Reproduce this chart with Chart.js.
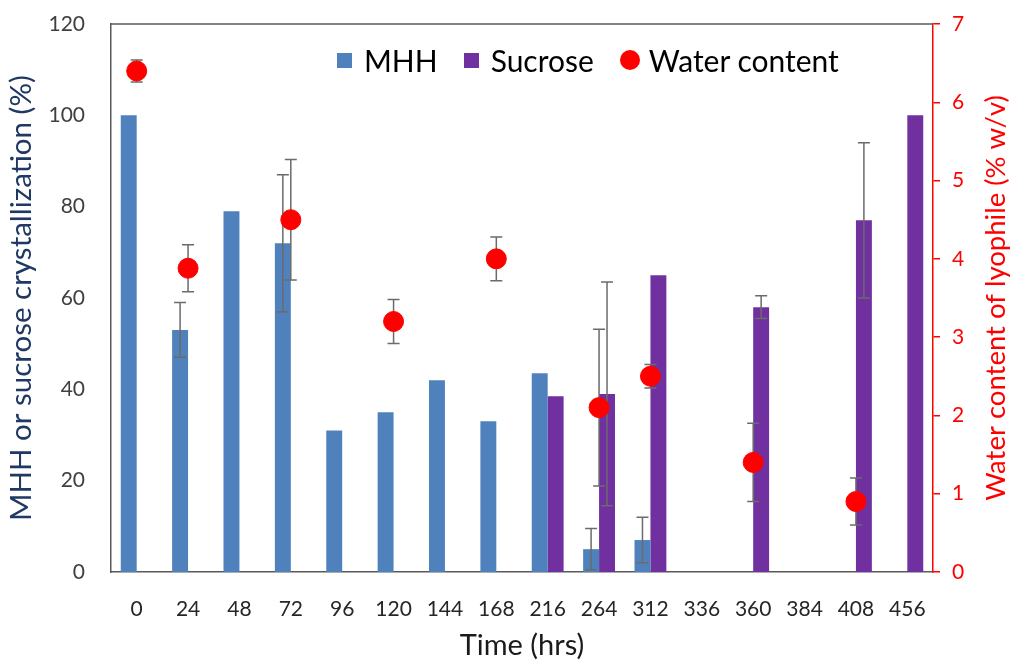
<!DOCTYPE html>
<html>
<head>
<meta charset="utf-8">
<script src="https://cdn.jsdelivr.net/npm/chart.js@4"></script>
<style>
  body { margin: 0; background: #fff; }
  #wrap { position: relative; width: 1017px; height: 660px; }
  #legend { position: absolute; left: 337px; top: 42px; display: flex; align-items: center;
            font-family: Lato, sans-serif; font-size: 30px; line-height: 36px; color: #000; }
  #legend .item { display: flex; align-items: center; margin-right: 26px; }
  #legend .mark { display: inline-block; margin-right: 12px; }
</style>
</head>
<body>
<div id="wrap">
  <canvas id="chart" width="1017" height="660"></canvas>
  <div id="legend"></div>
</div>
<script>
var categories = ['0', '24', '48', '72', '96', '120', '144', '168', '216', '264', '312', '336', '360', '384', '408', '456'];

var mhh = [100, 53, 79, 72, 31, 35, 42, 33, 43.5, 5, 7, null, null, null, null, null];
var mhhErr = [null, 6, null, 15, null, null, null, null, null, 4.5, 5, null, null, null, null, null];

var sucrose = [null, null, null, null, null, null, null, null, 38.5, 39, 65, null, 58, null, 77, 100];
var sucroseErr = [null, null, null, null, null, null, null, null, null, 24.5, null, null, 2.5, null, 17, null];

var water = [6.4, 3.88, null, 4.5, null, 3.2, null, 4.0, null, 2.1, 2.5, null, 1.4, null, 0.9, null];
var waterErr = [0.14, 0.3, null, 0.77, null, 0.28, null, 0.28, null, 1.0, 0.15, null, 0.5, null, 0.3, null];

Chart.defaults.font.family = 'Lato';

// error bars + top frame line + right axis title (reads bottom to top like the original)
var extras = {
    id: 'extras',
    beforeDatasetDraw: function (chart, args) {
        if (args.index !== 2) return;
        var errs = [mhhErr, sucroseErr, waterErr];
        var ctx = chart.ctx;
        ctx.save();
        ctx.strokeStyle = '#6b6b6b';
        ctx.lineWidth = 1.5;
        errs.forEach(function (err, di) {
            var meta = chart.getDatasetMeta(di);
            var scale = chart.scales[meta.yAxisID];
            var vals = chart.data.datasets[di].data;
            err.forEach(function (e, j) {
                if (e == null || vals[j] == null) return;
                var x = meta.data[j].x;
                var yTop = scale.getPixelForValue(vals[j] + e);
                var yBot = scale.getPixelForValue(Math.max(vals[j] - e, 0));
                ctx.beginPath();
                ctx.moveTo(x, yTop); ctx.lineTo(x, yBot);
                ctx.moveTo(x - 6, yTop); ctx.lineTo(x + 6, yTop);
                ctx.moveTo(x - 6, yBot); ctx.lineTo(x + 6, yBot);
                ctx.stroke();
            });
        });
        ctx.restore();
    },
    afterDraw: function (chart) {
        var ctx = chart.ctx;
        var a = chart.chartArea;
        ctx.save();
        ctx.strokeStyle = '#595959';
        ctx.lineWidth = 1.5;
        ctx.beginPath();
        ctx.moveTo(a.left, a.top);
        ctx.lineTo(a.right, a.top);
        ctx.stroke();

        ctx.translate(996, (a.top + a.bottom) / 2);
        ctx.rotate(-Math.PI / 2);
        ctx.fillStyle = '#ff0000';
        ctx.font = '27.5px Lato';
        ctx.textAlign = 'center';
        ctx.textBaseline = 'middle';
        ctx.fillText('Water content of lyophile (% w/v)', 0, 0);
        ctx.restore();
    }
};

var ctx = document.getElementById('chart').getContext('2d');
var myChart = new Chart(ctx, {
    type: 'bar',
    data: {
        labels: categories,
        datasets: [{
            label: 'MHH',
            data: mhh,
            backgroundColor: '#4f81bd',
            yAxisID: 'y',
            order: 1
        }, {
            label: 'Sucrose',
            data: sucrose,
            backgroundColor: '#7030a0',
            yAxisID: 'y',
            order: 1
        }, {
            type: 'line',
            label: 'Water content',
            data: water,
            showLine: false,
            pointStyle: 'circle',
            pointRadius: 10,
            pointHoverRadius: 10,
            backgroundColor: '#ff0000',
            borderColor: '#ff0000',
            yAxisID: 'y1',
            order: 0
        }]
    },
    options: {
        responsive: false,
        animation: false,
        categoryPercentage: 0.62,
        barPercentage: 1.0,
        layout: {
            padding: { top: 24, left: 0, right: 0, bottom: 0 }
        },
        plugins: {
            tooltip: { enabled: false },
            legend: { display: false }
        },
        scales: {
            x: {
                grid: { display: false },
                border: { color: '#595959', width: 1.5 },
                ticks: {
                    color: '#262626',
                    font: { size: 21 },
                    padding: 17,
                    autoSkip: false,
                    maxRotation: 0
                },
                title: {
                    display: true,
                    text: 'Time (hrs)',
                    color: '#1a1a1a',
                    font: { size: 29, lineHeight: 1 },
                    padding: { top: 0, bottom: 0 }
                },
                afterFit: function (s) { s.height = 88; }
            },
            y: {
                position: 'left',
                min: 0,
                max: 120,
                grid: { display: false },
                border: { color: '#595959', width: 1.5 },
                ticks: {
                    stepSize: 20,
                    color: '#404040',
                    font: { size: 21 },
                    padding: 18
                },
                title: {
                    display: true,
                    text: 'MHH or sucrose crystallization (%)',
                    color: '#1f3864',
                    font: { size: 29.5 },
                    padding: { top: 4, bottom: 0 }
                },
                afterFit: function (s) {
                    s.width = 111;
                    s.paddingTop = 12;
                    s.paddingBottom = 12;
                }
            },
            y1: {
                position: 'right',
                min: 0,
                max: 7,
                grid: {
                    display: true,
                    drawOnChartArea: false,
                    color: '#ff0000',
                    lineWidth: 1.5,
                    tickLength: 7
                },
                border: { color: '#ff0000', width: 1.5 },
                ticks: {
                    stepSize: 1,
                    color: '#ff0000',
                    font: { size: 21 },
                    padding: 12
                },
                afterFit: function (s) {
                    s.width = 84;
                    s.paddingTop = 12;
                    s.paddingBottom = 12;
                }
            }
        }
    },
    plugins: [extras]
});

// legend inside the plot, built from the datasets
var legendEl = document.getElementById('legend');
myChart.data.datasets.forEach(function (ds) {
    var item = document.createElement('span');
    item.className = 'item';
    var mark = document.createElement('span');
    mark.className = 'mark';
    mark.style.background = ds.backgroundColor;
    if (ds.type === 'line') {
        mark.style.width = '20px';
        mark.style.height = '20px';
        mark.style.borderRadius = '50%';
        mark.style.marginRight = '9px';
    } else {
        mark.style.width = '15px';
        mark.style.height = '15px';
    }
    item.appendChild(mark);
    item.appendChild(document.createTextNode(ds.label));
    legendEl.appendChild(item);
});
</script>
</body>
</html>
